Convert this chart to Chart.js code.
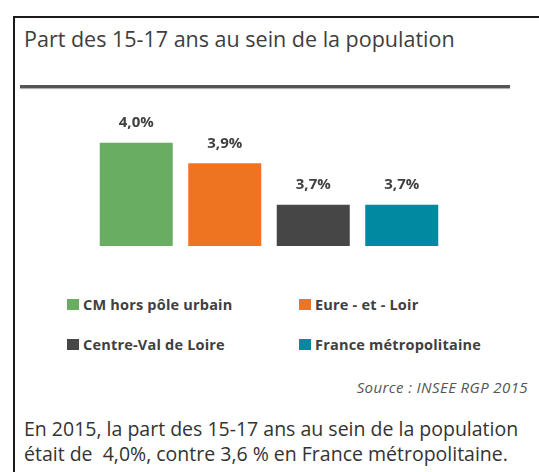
<!DOCTYPE html>
<html>
<head>
<meta charset="utf-8">
<script src="https://cdn.jsdelivr.net/npm/chart.js@4/dist/chart.umd.min.js"></script>
<style>
  body { margin: 0; width: 539px; height: 472px; background: #fff; font-family: "Open Sans", sans-serif; overflow: hidden; position: relative; }
  .frame { position: absolute; left: 13px; top: 16px; width: 640px; height: 600px; border: 2px solid #1a1a1a; }
  .title { position: absolute; left: 24px; top: 24px; font-size: 21.5px; color: #3e3e3e; white-space: nowrap; }
  .rule { position: absolute; left: 20px; top: 85px; width: 490px; height: 3px; background: #555; box-shadow: 0 1px 1px #aaa; }
  #chartBox { position: absolute; left: 92px; top: 100px; width: 354px; height: 146px; }
  .legend { position: absolute; left: 67px; top: 295px; width: 460px; }
  .legend-item { position: absolute; display: flex; align-items: center; font-size: 14.5px; font-weight: bold; letter-spacing: 0.2px; color: #404040; white-space: nowrap; }
  .legend-item span.sw { display: inline-block; width: 12px; height: 11px; margin-right: 4px; }
  .source { position: absolute; right: 11px; top: 377px; font-size: 15px; font-style: italic; letter-spacing: 0.4px; color: #555; }
  .note { position: absolute; left: 24px; top: 416px; font-size: 19.5px; line-height: 25px; color: #333; white-space: nowrap; }
</style>
</head>
<body>
<div class="frame"></div>
<div class="title">Part des 15-17 ans au sein de la population</div>
<div class="rule"></div>
<div id="chartBox"><canvas id="barChart"></canvas></div>
<div class="legend" id="legend"></div>
<div class="source">Source : INSEE RGP 2015</div>
<div class="note">En 2015, la part des 15-17 ans au sein de la population<br>était de &nbsp;4,0%, contre 3,6 % en France métropolitaine.</div>

<script>
const categories = ['CM hors pôle urbain', 'Eure - et - Loir', 'Centre-Val de Loire', 'France métropolitaine'];
const values = [4.0, 3.9, 3.7, 3.7];
const colors = ['#69ad63', '#ee7422', '#464646', '#0089a1'];

// etiquettes au-dessus des barres
const valueLabels = {
    id: 'valueLabels',
    afterDatasetsDraw(chart) {
        const ctx = chart.ctx;
        const meta = chart.getDatasetMeta(0);
        ctx.save();
        ctx.font = 'bold 15px "Open Sans", sans-serif';
        ctx.fillStyle = '#404040';
        ctx.textAlign = 'center';
        ctx.textBaseline = 'middle';
        meta.data.forEach((bar, i) => {
            ctx.fillText(values[i].toFixed(1).replace('.', ',') + '%', bar.x, bar.y - 20);
        });
        ctx.restore();
    }
};

const barCtx = document.getElementById('barChart').getContext('2d');
const barChart = new Chart(barCtx, {
    type: 'bar',
    data: {
        labels: categories,
        datasets: [{
            data: values,
            backgroundColor: colors,
            borderWidth: 0,
            barPercentage: 0.825,
            categoryPercentage: 1
        }]
    },
    options: {
        responsive: true,
        maintainAspectRatio: false,
        animation: false,
        layout: { padding: { top: 22, left: 0, right: 0, bottom: 0 } },
        scales: {
            x: { display: false },
            y: { display: false, min: 3.5, max: 4.1 }
        },
        plugins: {
            legend: { display: false },
            tooltip: { enabled: false }
        }
    },
    plugins: [valueLabels]
});

// legende en 2 colonnes
const legendBox = document.getElementById('legend');
const legendPos = [[0, 0], [232, 0], [0, 40], [232, 40]];
categories.forEach((name, i) => {
    const div = document.createElement('div');
    div.className = 'legend-item';
    div.style.left = legendPos[i][0] + 'px';
    div.style.top = legendPos[i][1] + 'px';
    div.innerHTML = `<span class="sw" style="background:${colors[i]}"></span>${name}`;
    legendBox.appendChild(div);
});
</script>
</body>
</html>
